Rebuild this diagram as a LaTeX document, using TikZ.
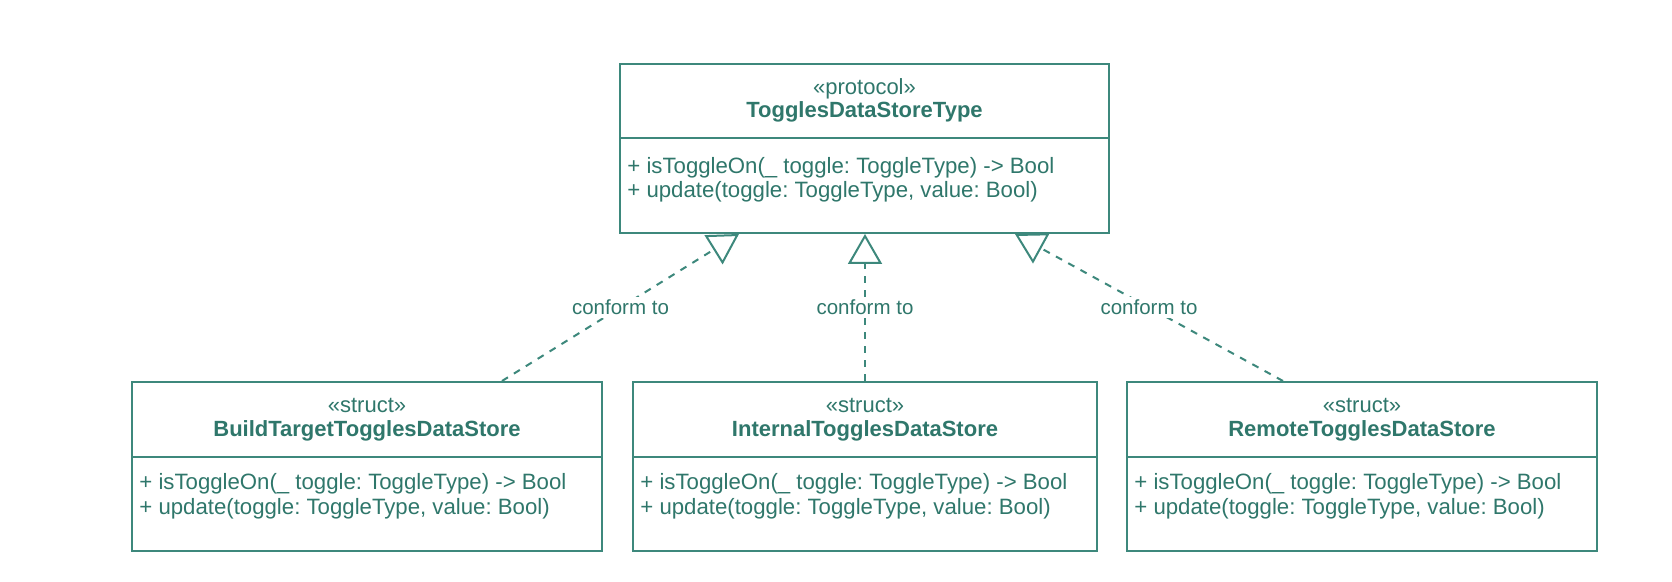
\documentclass[tikz,border=0pt]{standalone}
\usepackage{fontspec}
\setmainfont{Liberation Sans}
\usetikzlibrary{arrows.meta,calc}
\definecolor{umlline}{HTML}{3D887C}
\definecolor{umltext}{HTML}{2F776B}
\begin{document}
\frenchspacing
\begin{tikzpicture}[x=0.5pt,y=-0.5pt,
  classbox/.style={draw=umlline, line width=1pt, fill=white, rectangle, anchor=north west, minimum height=84.5pt, inner sep=0pt},
  stereo/.style={text=umltext, font=\fontsize{11pt}{13pt}\selectfont, inner sep=0pt},
  cname/.style={text=umltext, font=\fontsize{11pt}{13pt}\selectfont\bfseries, inner sep=0pt},
  method/.style={text=umltext, font=\fontsize{11.1pt}{13pt}\selectfont, inner sep=0pt, anchor=west},
  divider/.style={draw=umlline, line width=0.8pt},
  realize/.style={draw=umlline, line width=1pt, dash pattern=on 3.5pt off 3.5pt, -{Triangle[open, length=15pt, width=17pt, line width=1pt]}},
  lbl/.style={text=umltext, font=\fontsize{10.25pt}{12pt}\selectfont, fill=white, inner sep=1.5pt}
]
\useasboundingbox[fill=white] (0,0) rectangle (1672,582);

% protocol box
\node[classbox, minimum width=244.5pt] (top) at (619,63) {};
\node[stereo] (topst) at ($(top.north)+(0,26)$) {«protocol»};
\node[cname] (topnm) at ($(top.north)+(0,49)$) {TogglesDataStoreType};
\draw[divider] ($(top.north west)+(0,75)$) -- ($(top.north east)+(0,75)$);
\node[method] (topm1) at ($(top.north west)+(8,105)$) {+ isToggleOn(\_ toggle: ToggleType) -> Bool};
\node[method] (topm2) at ($(top.north west)+(8,129)$) {+ update(toggle: ToggleType, value: Bool)};

% left struct
\node[classbox, minimum width=235pt] (left) at (131,381) {};
\node[stereo] (leftst) at ($(left.north)+(0,24)$) {«struct»};
\node[cname] (leftnm) at ($(left.north)+(0,50)$) {BuildTargetTogglesDataStore};
\draw[divider] ($(left.north west)+(0,76)$) -- ($(left.north east)+(0,76)$);
\node[method] (leftm1) at ($(left.north west)+(8,103)$) {+ isToggleOn(\_ toggle: ToggleType) -> Bool};
\node[method] (leftm2) at ($(left.north west)+(8,128)$) {+ update(toggle: ToggleType, value: Bool)};

% middle struct
\node[classbox, minimum width=232pt] (mid) at (632,381) {};
\node[stereo] (midst) at ($(mid.north)+(0,24)$) {«struct»};
\node[cname] (midnm) at ($(mid.north)+(0,50)$) {InternalTogglesDataStore};
\draw[divider] ($(mid.north west)+(0,76)$) -- ($(mid.north east)+(0,76)$);
\node[method] (midm1) at ($(mid.north west)+(8,103)$) {+ isToggleOn(\_ toggle: ToggleType) -> Bool};
\node[method] (midm2) at ($(mid.north west)+(8,128)$) {+ update(toggle: ToggleType, value: Bool)};

% right struct
\node[classbox, minimum width=235pt] (right) at (1126,381) {};
\node[stereo] (rightst) at ($(right.north)+(0,24)$) {«struct»};
\node[cname] (rightnm) at ($(right.north)+(0,50)$) {RemoteTogglesDataStore};
\draw[divider] ($(right.north west)+(0,76)$) -- ($(right.north east)+(0,76)$);
\node[method] (rightm1) at ($(right.north west)+(8,103)$) {+ isToggleOn(\_ toggle: ToggleType) -> Bool};
\node[method] (rightm2) at ($(right.north west)+(8,128)$) {+ update(toggle: ToggleType, value: Bool)};

% connectors
\coordinate (ls) at ($(left.north west)+(371,0)$);
\coordinate (le) at ($(top.south west)+(120,0)$);
\coordinate (rs) at ($(right.north west)+(157,0)$);
\coordinate (re) at ($(top.south west)+(396,0)$);
\draw[realize] (ls) -- node[lbl] (lc) {conform to} (le);
\draw[realize] (mid.north) -- node[lbl] (mc) {conform to} (mid.north |- top.south);
\draw[realize] (rs) -- node[lbl] (rc) {conform to} (re);
\end{tikzpicture}
\end{document}
